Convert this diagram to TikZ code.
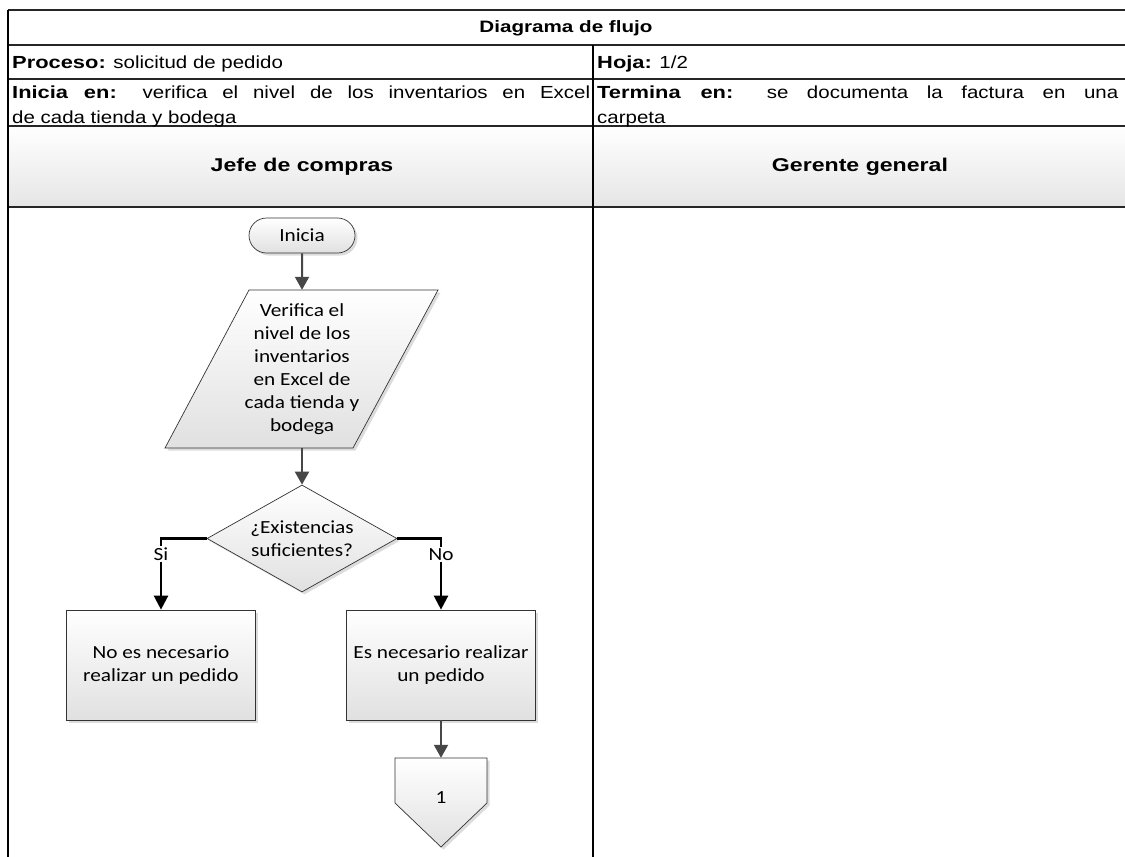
\documentclass[tikz,border=0pt]{standalone}
\usepackage{fontspec}
\setmainfont{Liberation Sans}[FakeStretch=1.17, BoldFeatures={FakeStretch=1.25}]
\newfontfamily\flowfont{Carlito}[FakeStretch=1.15]
\usetikzlibrary{shapes.geometric,shapes.misc,shadows,arrows.meta,calc}

\tikzset{
  rule/.style={draw=black!85, line width=1.6pt},
  cell/.style={font=\fontsize{17.5}{24}\selectfont, inner sep=0pt, anchor=base west},
  tabletitle/.style={font=\bfseries\fontsize{16.5}{24}\selectfont, inner sep=0pt},
  lanehead/.style={font=\bfseries\fontsize{18.5}{24}\selectfont, inner sep=0pt},
  shapebody/.style={draw=black!80, line width=0.7pt, top color=white, bottom color=black!12,
    drop shadow={shadow xshift=2.5pt, shadow yshift=-2.5pt, fill=black!30, opacity=0.45}},
  flowtext/.style={font=\flowfont\fontsize{18.5}{23}\selectfont, align=center},
  terminal/.style={shapebody, flowtext, rounded rectangle, minimum width=106pt, minimum height=35pt, inner sep=0pt},
  process/.style={shapebody, flowtext, rectangle, minimum width=189pt, minimum height=110pt, inner sep=0pt},
  decision/.style={shapebody, flowtext, diamond, aspect=1.78, minimum width=190pt, minimum height=107pt, inner sep=0pt},
  holder/.style={flowtext, inner sep=0pt},
  flowline/.style={draw=black!72, line width=2pt, -{Triangle[width=14pt,length=13pt]}},
  branch/.style={draw=black, line width=2.4pt, -{Triangle[width=14pt,length=14pt]}},
  branchlabel/.style={flowtext, fill=white, inner sep=1.5pt},
}

\begin{document}
\begin{tikzpicture}[x=1pt,y=-1pt]
\useasboundingbox (0,0) rectangle (1125,857);
\fill[white] (0,0) rectangle (1125,857);

% header table
\shade[top color=white, bottom color=black!10] (8,126) rectangle (1125,207);
\foreach \yy in {10,45,79,126,207} \draw[rule] (8,\yy) -- (1125,\yy);
\draw[rule, draw=black] (8,10) -- (8,857);
\draw[rule, draw=black] (593,45) -- (593,857);

\node[tabletitle] (title) at (566,28) {Diagrama de flujo};
\node[cell] (proc) at (12,68) {\textbf{Proceso:} solicitud de pedido};
\node[cell] (hoja) at (597,68) {\textbf{Hoja:} 1/2};
\node[cell] (ini1) at (12,98) {\makebox[578pt][s]{\textbf{Inicia en:} verifica el nivel de los inventarios en Excel}};
\node[cell] (ini2) at (12,123) {de cada tienda y bodega};
\node[cell] (ter1) at (597,98) {\makebox[521pt][s]{\textbf{Termina en:} se documenta la factura en una}};
\node[cell] (ter2) at (597,123) {carpeta};
\node[lanehead] (jefe) at (302,167) {Jefe de compras};
\node[lanehead] (gerente) at (860,167) {Gerente general};

% flowchart
\node[terminal] (start) at (302,235.5) {Inicia};

\path[shapebody] (249,290) -- (438,290) -- (353,448) -- (165,448) -- cycle;
\node[holder, minimum width=189pt, minimum height=158pt] (verif) at (302,369)
  {\raisebox{6pt}{\begin{tabular}{@{}c@{}}Verifica el\\nivel de los\\inventarios\\en Excel de\\cada tienda y\\bodega\end{tabular}}};

\node[decision] (dec) at (302,538.5) {¿Existencias\\suficientes?};

\node[process] (nope) at (161,665) {No es necesario\\realizar un pedido};
\node[process] (yes) at (441,665) {Es necesario realizar\\un pedido};

\path[shapebody] (395,758) -- (487,758) -- (487,803) -- (441,847) -- (395,803) -- cycle;
\node[holder, minimum width=92pt, minimum height=89pt] (conn) at (441,802.5) {\raisebox{10pt}{1}};

\draw[flowline] (start) -- (verif);
\draw[flowline] (verif) -- (dec);
\draw[branch] (dec.west) -| node[branchlabel, pos=0.61] {Si} (nope.north);
\draw[branch] (dec.east) -| node[branchlabel, pos=0.61] {No} (yes.north);
\draw[flowline] (yes) -- (conn);
\end{tikzpicture}
\end{document}
